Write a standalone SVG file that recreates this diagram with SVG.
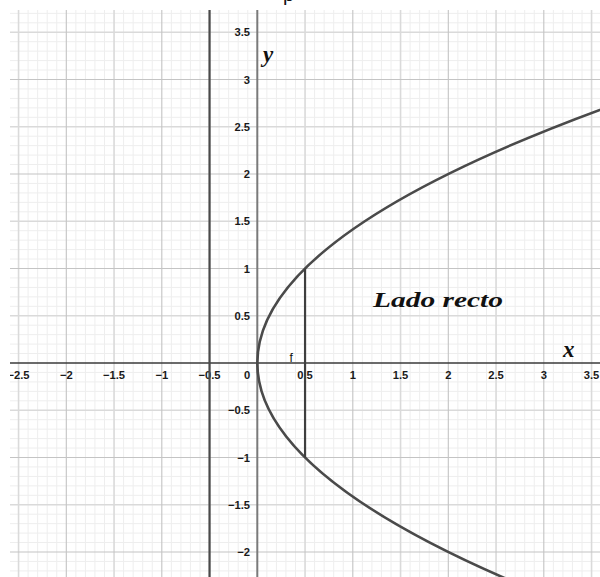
<svg xmlns="http://www.w3.org/2000/svg" width="600" height="577" viewBox="0 0 600 577">
<defs>
<style>
.minor{stroke:#eeeeee;stroke-width:1;fill:none}
.half{stroke:#dadada;stroke-width:1.6;fill:none}
.int{stroke:#c4c4c4;stroke-width:1.1;fill:none}
.tick{font-family:"Liberation Sans",Arial,sans-serif;font-size:11.2px;font-weight:bold;fill:#1a1a1a}
.tx{text-anchor:middle}
.ty{text-anchor:end}
.math{font-family:"Liberation Serif","Times New Roman",serif;font-style:italic;font-weight:bold;fill:#111}
.curve{stroke:#4a4a4a;stroke-width:2.6;fill:none}
</style>
<clipPath id="plot"><rect x="10" y="10" width="590" height="567"/></clipPath>
</defs>
<rect width="600" height="577" fill="#ffffff"/>
<text x="283" y="0.5" font-family="Liberation Sans,Arial,sans-serif" font-size="20" fill="#111">p</text>
<g id="grid" clip-path="url(#plot)">
<path class="minor" d="M28.1 10V577M37.65 10V577M47.2 10V577M56.75 10V577M75.85 10V577M85.4 10V577M94.95 10V577M104.5 10V577M123.6 10V577M133.15 10V577M142.7 10V577M152.25 10V577M171.35 10V577M180.9 10V577M190.45 10V577M200 10V577M219.1 10V577M228.65 10V577M238.2 10V577M247.75 10V577M266.85 10V577M276.4 10V577M285.95 10V577M295.5 10V577M314.6 10V577M324.15 10V577M333.7 10V577M343.25 10V577M362.35 10V577M371.9 10V577M381.45 10V577M391 10V577M410.1 10V577M419.65 10V577M429.2 10V577M438.75 10V577M457.85 10V577M467.4 10V577M476.95 10V577M486.5 10V577M505.6 10V577M515.15 10V577M524.7 10V577M534.25 10V577M553.35 10V577M562.9 10V577M572.45 10V577M582 10V577"/>
<path class="minor" d="M10 13.35H600M10 22.8H600M10 41.7H600M10 51.15H600M10 60.6H600M10 70.05H600M10 88.95H600M10 98.4H600M10 107.85H600M10 117.3H600M10 136.2H600M10 145.65H600M10 155.1H600M10 164.55H600M10 183.45H600M10 192.9H600M10 202.35H600M10 211.8H600M10 230.7H600M10 240.15H600M10 249.6H600M10 259.05H600M10 277.95H600M10 287.4H600M10 296.85H600M10 306.3H600M10 325.2H600M10 334.65H600M10 344.1H600M10 353.55H600M10 372.45H600M10 381.9H600M10 391.35H600M10 400.8H600M10 419.7H600M10 429.15H600M10 438.6H600M10 448.05H600M10 466.95H600M10 476.4H600M10 485.85H600M10 495.3H600M10 514.2H600M10 523.65H600M10 533.1H600M10 542.55H600M10 561.45H600M10 570.9H600"/>
<path class="half" d="M18.55 10V577M114.05 10V577M209.55 10V577M305.05 10V577M400.55 10V577M496.05 10V577M591.55 10V577M10 32.25H600M10 126.75H600M10 221.25H600M10 315.75H600M10 410.25H600M10 504.75H600"/>
<path class="int" d="M66.3 10V577M161.8 10V577M352.8 10V577M448.3 10V577M543.8 10V577M10 79.5H600M10 174H600M10 268.5H600M10 457.5H600M10 552H600"/>
</g>
<g id="axes" clip-path="url(#plot)">
<line id="y-axis" x1="257.3" y1="10" x2="257.3" y2="577" stroke="#7a7a7a" stroke-width="2"/>
<line id="x-axis" x1="10" y1="363" x2="600" y2="363" stroke="#3a3a3a" stroke-width="1.6"/>
</g>
<g id="tick-labels" class="tick" clip-path="url(#plot)">
<text class="tx" x="18.55" y="379">−2.5</text>
<text class="tx" x="66.3" y="379">−2</text>
<text class="tx" x="114.05" y="379">−1.5</text>
<text class="tx" x="161.8" y="379">−1</text>
<text class="tx" x="209.55" y="379">−0.5</text>
<text class="tx" x="247" y="379">0</text>
<text class="tx" x="305.05" y="379">0.5</text>
<text class="tx" x="352.8" y="379">1</text>
<text class="tx" x="400.55" y="379">1.5</text>
<text class="tx" x="448.3" y="379">2</text>
<text class="tx" x="496.05" y="379">2.5</text>
<text class="tx" x="543.8" y="379">3</text>
<text class="tx" x="591.55" y="379">3.5</text>
<text class="ty" x="250" y="36.3">3.5</text>
<text class="ty" x="250" y="83.5">3</text>
<text class="ty" x="250" y="130.8">2.5</text>
<text class="ty" x="250" y="178">2</text>
<text class="ty" x="250" y="225.3">1.5</text>
<text class="ty" x="250" y="272.5">1</text>
<text class="ty" x="250" y="319.8">0.5</text>
<text class="ty" x="250" y="414.3">−0.5</text>
<text class="ty" x="250" y="461.5">−1</text>
<text class="ty" x="250" y="508.8">−1.5</text>
<text class="ty" x="250" y="556">−2</text>
</g>
<g id="directrix" clip-path="url(#plot)">
<line x1="209.55" y1="10" x2="209.55" y2="577" stroke="#4a4a4a" stroke-width="2.2"/>
</g>
<g id="parabola" clip-path="url(#plot)">
<path class="curve" d="M618.4 103.1Q-44.7 341.7 509.9 580.35"/>
</g>
<g id="latus-rectum">
<line x1="305.05" y1="268.5" x2="305.05" y2="457.5" stroke="#3f3f3f" stroke-width="2.2"/>
</g>
<g id="labels">
<text class="math" x="263" y="62" font-size="23">y</text>
<text class="math" x="563" y="357" font-size="23">x</text>
<text class="math" x="373" y="307" font-size="22" textLength="130" lengthAdjust="spacingAndGlyphs">Lado recto</text>
<text x="289.5" y="361.5" font-family="Liberation Sans,Arial,sans-serif" font-size="12" fill="#111">f</text>
</g>
</svg>
